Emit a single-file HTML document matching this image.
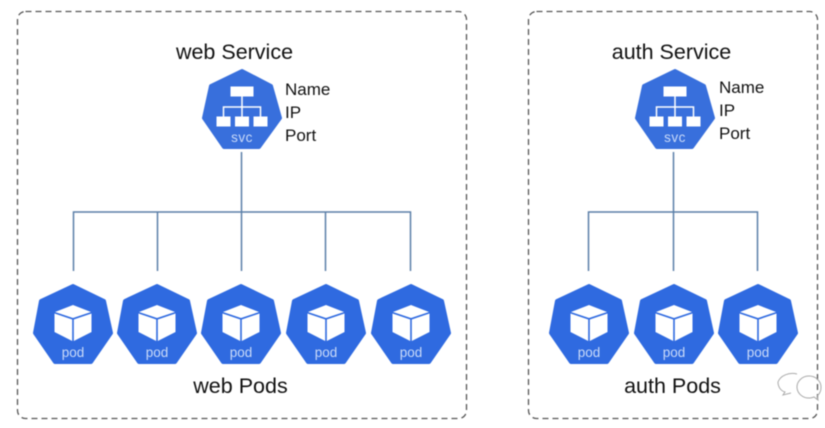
<!DOCTYPE html>
<html>
<head>
<meta charset="utf-8">
<style>
html,body{margin:0;padding:0;background:#fff;width:825px;height:428px;overflow:hidden}
svg{display:block;filter:blur(.45px)}
text{font-family:"Liberation Sans",sans-serif}
</style>
</head>
<body>
<svg width="825" height="428" viewBox="0 0 825 428" xmlns="http://www.w3.org/2000/svg">
<defs>
  <g id="pod">
    <polygon points="0,2 31,17 38,49 18,78 -18,78 -38,49 -32,17" fill="#2f6ae0" stroke="#2f6ae0" stroke-width="4" stroke-linejoin="round"/>
    <polygon points="0,21 -18,28 0,34 18,28" fill="#fff"/>
    <polygon points="-18.500,29.500 -.8,35.500 -.8,57 -18.500,48" fill="#fff"/>
    <polygon points="18.500,29.500 .8,35.500 .8,57 18.500,48" fill="#fff"/>
    <text x="0" y="73" font-size="13.500" fill="#c9daf9" text-anchor="middle">pod</text>
  </g>
  <g id="svc">
    <polygon points="0,2 29,17 38,49 17,78 -18,78 -38,49 -31,17" fill="#386fdc" stroke="#386fdc" stroke-width="4" stroke-linejoin="round"/>
    <rect x="-11.500" y="17.500" width="23" height="10" fill="#fff"/>
    <rect x="-25.500" y="47.500" width="14" height="10" fill="#fff"/>
    <rect x="-7" y="47.500" width="14" height="10" fill="#fff"/>
    <rect x="11.500" y="47.500" width="14" height="10" fill="#fff"/>
    <path d="M0 27V48M-18.500 48V38H18.500V48" fill="none" stroke="#fff" stroke-width="1.500"/>
    <text x="0" y="73" font-size="13.500" fill="#c9daf9" text-anchor="middle" letter-spacing=".5">svc</text>
  </g>
</defs>

<rect x="17.500" y="11.500" width="449" height="407" rx="8" fill="none" stroke="#555" stroke-width="1.300" stroke-dasharray="6 4"/>
<rect x="528.500" y="11.500" width="289" height="407" rx="8" fill="none" stroke="#555" stroke-width="1.300" stroke-dasharray="6 4"/>

<g fill="none" stroke="#5b7fa8" stroke-width="1.500">
  <path d="M241.500 152V271M73.500 271V212H410.500V271M157.500 212V271M325.500 212V271"/>
  <path d="M673.500 152V271M588.500 271V212H757.500V271"/>
</g>

<use href="#svc" x="242" y="69"/>
<use href="#svc" x="675" y="69"/>

<use href="#pod" x="73" y="284"/>
<use href="#pod" x="157" y="284"/>
<use href="#pod" x="241" y="284"/>
<use href="#pod" x="326" y="284"/>
<use href="#pod" x="411" y="284"/>
<use href="#pod" x="589" y="284"/>
<use href="#pod" x="674" y="284"/>
<use href="#pod" x="758" y="284"/>

<g fill="#111" font-size="21.500" text-anchor="middle">
  <text x="234.500" y="59">web Service</text>
  <text x="671.500" y="59">auth Service</text>
  <text x="240.500" y="393">web Pods</text>
  <text x="672.500" y="393">auth Pods</text>
</g>
<g fill="#111" font-size="17">
  <text x="285" y="95">Name</text>
  <text x="285" y="118">IP</text>
  <text x="285" y="141">Port</text>
  <text x="719" y="93">Name</text>
  <text x="719" y="116">IP</text>
  <text x="719" y="139">Port</text>
</g>

<g fill="none" stroke="#aaa" stroke-width="1">
  <path d="M797 374a15 12 0 0 0 -19 8c0 5 3 9 7 10l-2 3 8 -2"/>
  <path d="M821 387a12 11 0 1 0 -11 11a13 13 0 0 0 4 -1l4 3 -1 -4a11 11 0 0 0 4 -9z"/>
</g>
</svg>
</body>
</html>
